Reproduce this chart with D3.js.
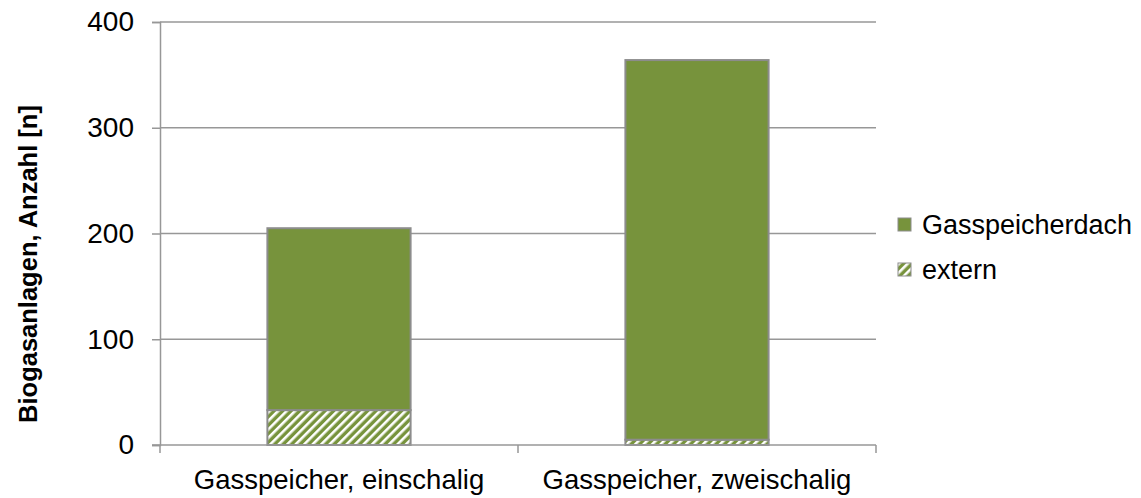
<!DOCTYPE html>
<html>
<head>
<meta charset="utf-8">
<script src="https://cdn.jsdelivr.net/npm/d3@7"></script>
<style>
  body { margin: 0; background: #fff; }
  text { font-family: "Liberation Sans", Arial, sans-serif; fill: #000; }
</style>
</head>
<body>
<div id="chart"></div>
<script>
'use strict';

var categories = ['Gasspeicher, einschalig', 'Gasspeicher, zweischalig'];
var externValues = [33, 5];
var dachValues = [172, 359];
var seriesNames = ['Gasspeicherdach', 'extern'];
var yTicks = [0, 100, 200, 300, 400];

var W = 1141, H = 498;
var margin = { top: 22, left: 160, right: 265, bottom: 53 };
var plotW = W - margin.left - margin.right;
var plotH = H - margin.top - margin.bottom;
var green = '#77933C';
var gridColor = '#979797';

var svg = d3.select('#chart').append('svg')
    .attr('width', W)
    .attr('height', H);

// hatch pattern for "extern"
var defs = svg.append('defs');
var pat = defs.append('pattern')
    .attr('id', 'hatch')
    .attr('patternUnits', 'userSpaceOnUse')
    .attr('width', 6)
    .attr('height', 6)
    .attr('patternTransform', 'rotate(45)');
pat.append('rect').attr('width', 6).attr('height', 6).attr('fill', green);
pat.append('rect').attr('width', 2.6).attr('height', 6).attr('fill', '#fff');

var x = d3.scaleBand()
    .domain(categories)
    .range([margin.left, margin.left + plotW])
    .paddingInner(0.6)
    .paddingOuter(0.3);

var y = d3.scaleLinear()
    .domain([0, 400])
    .range([margin.top + plotH, margin.top]);

// gridlines
svg.append('g')
    .selectAll('line')
    .data(yTicks.slice(1))
    .join('line')
    .attr('x1', margin.left)
    .attr('x2', margin.left + plotW)
    .attr('y1', function (d) { return y(d); })
    .attr('y2', function (d) { return y(d); })
    .attr('stroke', gridColor)
    .attr('stroke-width', 1.5);

// y axis
var yAxis = svg.append('g')
    .attr('transform', 'translate(' + margin.left + ',0)')
    .call(d3.axisLeft(y).tickValues(yTicks).tickSize(8).tickPadding(18));
yAxis.select('.domain').attr('stroke', gridColor).attr('stroke-width', 1.5);
yAxis.selectAll('.tick line').attr('stroke', gridColor).attr('stroke-width', 1.5);
yAxis.selectAll('.tick text')
    .style('font-size', '28px')
    .style('font-family', '"Liberation Sans", Arial, sans-serif')
    .attr('fill', '#000');

// stacked bars
var stackData = categories.map(function (c, i) {
    return { cat: c, extern: externValues[i], dach: dachValues[i] };
});
var stacked = d3.stack().keys(['extern', 'dach'])(stackData);
var fills = { extern: 'url(#hatch)', dach: green };

svg.append('g')
    .selectAll('g')
    .data(stacked)
    .join('g')
    .attr('fill', function (s) { return fills[s.key]; })
    .selectAll('rect')
    .data(function (s) { return s; })
    .join('rect')
    .attr('x', function (d) { return x(d.data.cat); })
    .attr('width', x.bandwidth())
    .attr('y', function (d) { return y(d[1]); })
    .attr('height', function (d) { return y(d[0]) - y(d[1]); })
    .attr('stroke', '#8c8c8c')
    .attr('stroke-width', 2);

// x axis
var xAxisY = y(0);
var xg = svg.append('g');
xg.append('line')
    .attr('x1', margin.left - 8)
    .attr('x2', margin.left + plotW)
    .attr('y1', xAxisY)
    .attr('y2', xAxisY)
    .attr('stroke', gridColor)
    .attr('stroke-width', 1.5);
var step = plotW / categories.length;
xg.selectAll('.xt')
    .data(d3.range(categories.length + 1))
    .join('line')
    .attr('x1', function (i) { return margin.left + i * step; })
    .attr('x2', function (i) { return margin.left + i * step; })
    .attr('y1', xAxisY)
    .attr('y2', xAxisY + 8)
    .attr('stroke', gridColor)
    .attr('stroke-width', 1.5);
xg.selectAll('text')
    .data(categories)
    .join('text')
    .attr('x', function (d) { return x(d) + x.bandwidth() / 2; })
    .attr('y', xAxisY + 44)
    .attr('text-anchor', 'middle')
    .style('font-size', '27.5px')
    .text(function (d) { return d; });

// y title
svg.append('text')
    .attr('transform', 'translate(37,264) rotate(-90)')
    .attr('text-anchor', 'middle')
    .style('font-size', '25.5px')
    .style('font-weight', 'bold')
    .text('Biogasanlagen, Anzahl [n]');

// legend
var legend = svg.append('g').attr('transform', 'translate(898,218)');
var legendItems = [
    { name: seriesNames[0], fill: green },
    { name: seriesNames[1], fill: 'url(#hatch)' }
];
var li = legend.selectAll('g')
    .data(legendItems)
    .join('g')
    .attr('transform', function (d, i) { return 'translate(0,' + (i * 45) + ')'; });
li.append('rect')
    .attr('width', 13)
    .attr('height', 13)
    .attr('fill', function (d) { return d.fill; })
    .attr('stroke', '#8c8c8c')
    .attr('stroke-width', 1);
li.append('text')
    .attr('x', 24)
    .attr('y', 7)
    .attr('dy', '0.35em')
    .style('font-size', '27px')
    .text(function (d) { return d.name; });
</script>
</body>
</html>
